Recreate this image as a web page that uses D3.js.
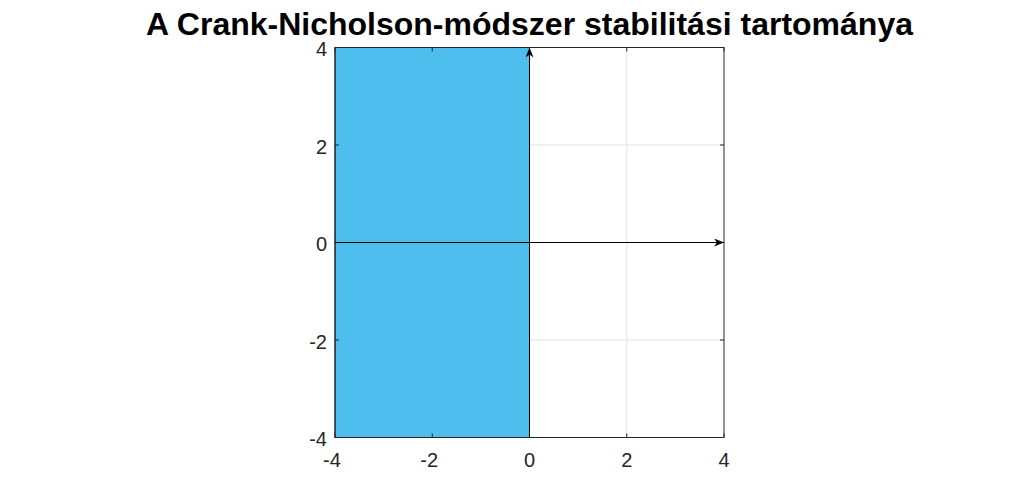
<!DOCTYPE html>
<meta charset="utf-8"/>
<style>
  body { margin: 0; background: #fff; }
  text { font-family: "Liberation Sans", Arial, sans-serif; }
</style>
<svg width="1024" height="492"></svg>
<script src="https://d3js.org/d3.v7.min.js"></script>
<script>

// data
var titleText = "A Crank-Nicholson-módszer stabilitási tartománya"
var xDomain = [-4, 4]
var yDomain = [-4, 4]
var xTicks = [-4, -2, 0, 2, 4]
var yTicks = [-4, -2, 0, 2, 4]
// stable region: Re(z) <= 0, drawn as a polygon clipped to the axes
var regionX = [-4, 0, 0, -4]
var regionY = [-4, -4, 4, 4]
// coordinate axes drawn as arrows
var arrowFrom = [[-4, 0], [0, -4]]
var arrowTo   = [[4, 0], [0, 4]]

var svg = d3.select("svg")

// "top" is taken by window.top, so use other names
var pL = 335, pR = 724, pT = 47.5, pB = 437.5

var x = d3.scaleLinear().domain(xDomain).range([pL, pR])
var y = d3.scaleLinear().domain(yDomain).range([pB, pT])

// grid
svg.append("g").selectAll("line")
  .data(xTicks.slice(1, -1)).enter().append("line")
    .attr("x1", d => x(d)).attr("x2", d => x(d))
    .attr("y1", pT).attr("y2", pB)
    .attr("stroke", "#e3e3e3").attr("stroke-width", 1)
svg.append("g").selectAll("line")
  .data(yTicks.slice(1, -1)).enter().append("line")
    .attr("y1", d => y(d)).attr("y2", d => y(d))
    .attr("x1", pL).attr("x2", pR)
    .attr("stroke", "#e3e3e3").attr("stroke-width", 1)

// shaded region
var pts = regionX.map((v, i) => [x(v), y(regionY[i])])
svg.append("path")
    .attr("d", d3.line()(pts) + "Z")
    .attr("fill", "#4dbeee")
    .attr("stroke", "#1a1a1a")
    .attr("stroke-width", 1)

// axes box
svg.append("rect")
    .attr("x", pL).attr("y", pT)
    .attr("width", pR - pL).attr("height", pB - pT)
    .attr("fill", "none").attr("stroke", "#262626").attr("stroke-width", 1)

// tick marks (inside)
var tlen = 4
svg.append("g").selectAll("line")
  .data(xTicks).enter().append("line")
    .attr("x1", d => x(d)).attr("x2", d => x(d))
    .attr("y1", pB).attr("y2", pB - tlen)
    .attr("stroke", "#262626")
svg.append("g").selectAll("line")
  .data(xTicks).enter().append("line")
    .attr("x1", d => x(d)).attr("x2", d => x(d))
    .attr("y1", pT).attr("y2", pT + tlen)
    .attr("stroke", "#262626")
svg.append("g").selectAll("line")
  .data(yTicks).enter().append("line")
    .attr("y1", d => y(d)).attr("y2", d => y(d))
    .attr("x1", pL).attr("x2", pL + tlen)
    .attr("stroke", "#262626")
svg.append("g").selectAll("line")
  .data(yTicks).enter().append("line")
    .attr("y1", d => y(d)).attr("y2", d => y(d))
    .attr("x1", pR).attr("x2", pR - tlen)
    .attr("stroke", "#262626")

// tick labels
svg.append("g").selectAll("text")
  .data(xTicks).enter().append("text")
    .attr("x", d => x(d) - (d < 0 ? 3 : 0))
    .attr("y", pB + 29)
    .attr("text-anchor", "middle")
    .style("font-size", "20px")
    .attr("fill", "#262626")
    .text(d => d)
svg.append("g").selectAll("text")
  .data(yTicks).enter().append("text")
    .attr("x", pL - 8)
    .attr("y", d => y(d) + 8.5)
    .attr("text-anchor", "end")
    .style("font-size", "20px")
    .attr("fill", "#262626")
    .text(d => d)

// arrows
svg.append("defs").append("marker")
    .attr("id", "tri")
    .attr("viewBox", "0 0 10 8")
    .attr("refX", 10).attr("refY", 4)
    .attr("markerWidth", 10).attr("markerHeight", 8)
    .attr("markerUnits", "userSpaceOnUse")
    .attr("orient", "auto")
  .append("path")
    .attr("d", "M0,0 L10,4 L0,8 L3,4 Z")
    .attr("fill", "#000")

arrowFrom.forEach(function(a, i) {
  svg.append("line")
      .attr("x1", x(a[0])).attr("y1", y(a[1]))
      .attr("x2", x(arrowTo[i][0])).attr("y2", y(arrowTo[i][1]))
      .attr("stroke", "#000").attr("stroke-width", 1)
      .attr("marker-end", "url(#tri)")
})

// title
svg.append("text")
    .attr("x", (pL + pR) / 2)
    .attr("y", 35)
    .attr("text-anchor", "middle")
    .style("font-size", "32px")
    .style("font-weight", "bold")
    .attr("fill", "#000")
    .text(titleText)

</script>
